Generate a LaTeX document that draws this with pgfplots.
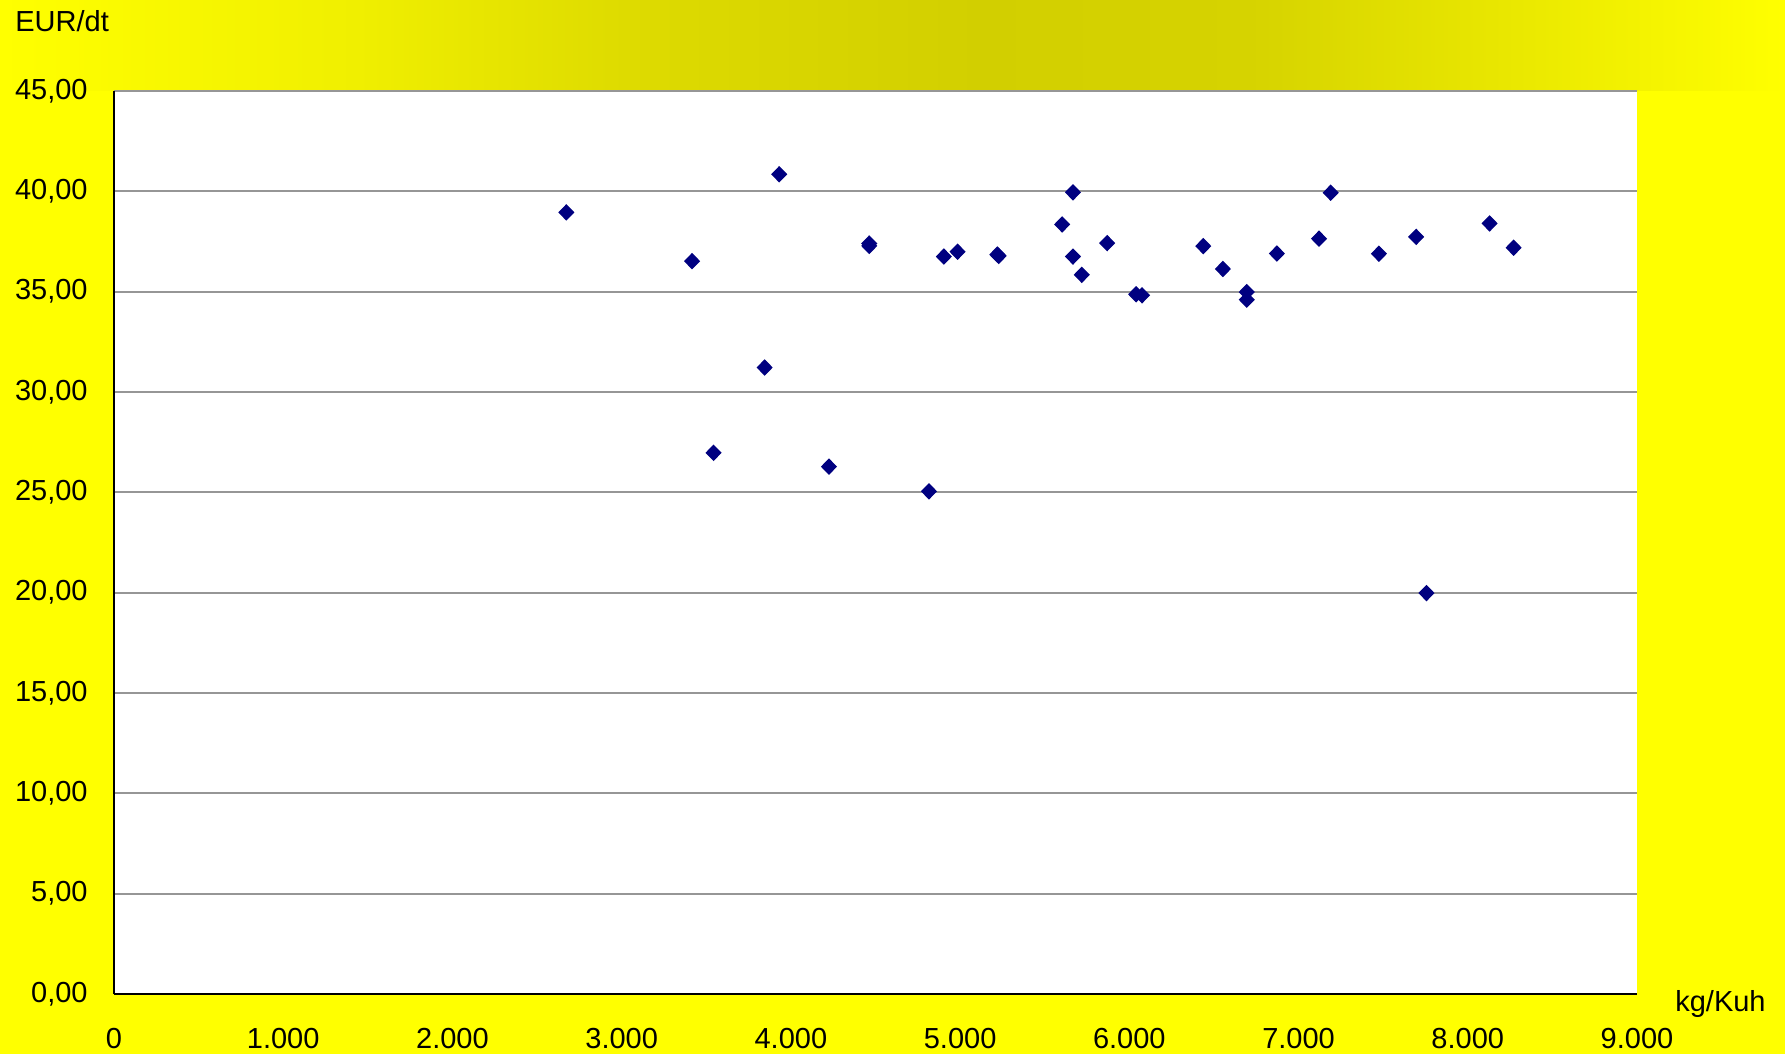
\documentclass[border=0pt]{standalone}
\usepackage{pgfplots}
\pgfplotsset{compat=1.18}
\usepackage{fontspec}
\setmainfont{Liberation Sans}
\definecolor{bgyellow}{RGB}{255,255,0}
\definecolor{navymark}{RGB}{0,0,128}
\definecolor{gridgray}{RGB}{150,150,150}
\definecolor{c1}{RGB}{240,239,0}
\definecolor{c2}{RGB}{222,219,0}
\definecolor{c3}{RGB}{210,207,0}
\definecolor{c4}{RGB}{214,211,0}
\definecolor{c5}{RGB}{234,232,0}
\pgfplotstableread{
x y
2673 38.95
3416 36.52
3543 26.97
3845 31.22
3931 40.85
4225 26.28
4463 37.40
4463 37.28
4816 25.05
4904 36.75
4985 36.99
5220 36.85
5228 36.78
5603 38.35
5667 39.95
5667 36.75
5719 35.84
5869 37.42
6040 34.87
6075 34.82
6437 37.27
6553 36.13
6694 34.98
6694 34.60
6872 36.90
7121 37.64
7190 39.93
7475 36.89
7695 37.73
7756 19.98
8129 38.40
8271 37.19
}\datatable
\begin{document}
\begin{tikzpicture}
\useasboundingbox (0,0) rectangle (892.5pt,527pt);
\fill[bgyellow] (0,0) rectangle (892.5pt,527pt);
\shade[left color=bgyellow, right color=c1] (0,481.5pt) rectangle (178.5pt,527pt);
\shade[left color=c1, right color=c2] (178.3pt,481.5pt) rectangle (312.4pt,527pt);
\shade[left color=c2, right color=c3] (312.2pt,481.5pt) rectangle (490.9pt,527pt);
\shade[left color=c3, right color=c4] (490.7pt,481.5pt) rectangle (624.8pt,527pt);
\shade[left color=c4, right color=c5] (624.6pt,481.5pt) rectangle (758.6pt,527pt);
\shade[left color=c5, right color=bgyellow] (758.4pt,481.5pt) rectangle (892.5pt,527pt);
\begin{axis}[
  at={(57pt,30pt)}, anchor=south west,
  scale only axis,
  width=761.5pt, height=451.5pt,
  xmin=0, xmax=9000, ymin=0, ymax=45,
  xtick={0,1000,...,9000},
  ytick={0,5,...,45},
  axis background/.style={fill=white},
  axis lines*=left,
  axis line style={-, black, line width=1pt},
  major tick length=0pt,
  ymajorgrids,
  grid style={gridgray, line width=1.1pt},
  tick label style={font=\fontsize{14.5}{17}\selectfont},
  /pgf/number format/assume math mode=true,
  /pgf/number format/use comma,
  /pgf/number format/1000 sep={.},
  yticklabel style={/pgf/number format/fixed, /pgf/number format/fixed zerofill, /pgf/number format/precision=2, anchor=east, inner sep=0pt, xshift=-13pt},
  xticklabel style={anchor=north, inner sep=0pt, yshift=-17pt},
  xlabel={kg/Kuh}, ylabel={EUR/dt},
  every axis x label/.style={at={(rel axis cs:1.0249,0.0044)}, anchor=north west, inner sep=0pt, font=\fontsize{14.5}{17}\selectfont},
  every axis y label/.style={at={(rel axis cs:-0.065,1.0897)}, anchor=north west, inner sep=0pt, font=\fontsize{14.5}{17}\selectfont},
  clip=false,
]
\addplot[only marks, mark=diamond*, mark size=3.7pt, mark options={fill=navymark, draw=navymark, line width=0.6pt, xscale=1.3}] table[x=x, y=y] {\datatable};
\end{axis}
\end{tikzpicture}
\end{document}
